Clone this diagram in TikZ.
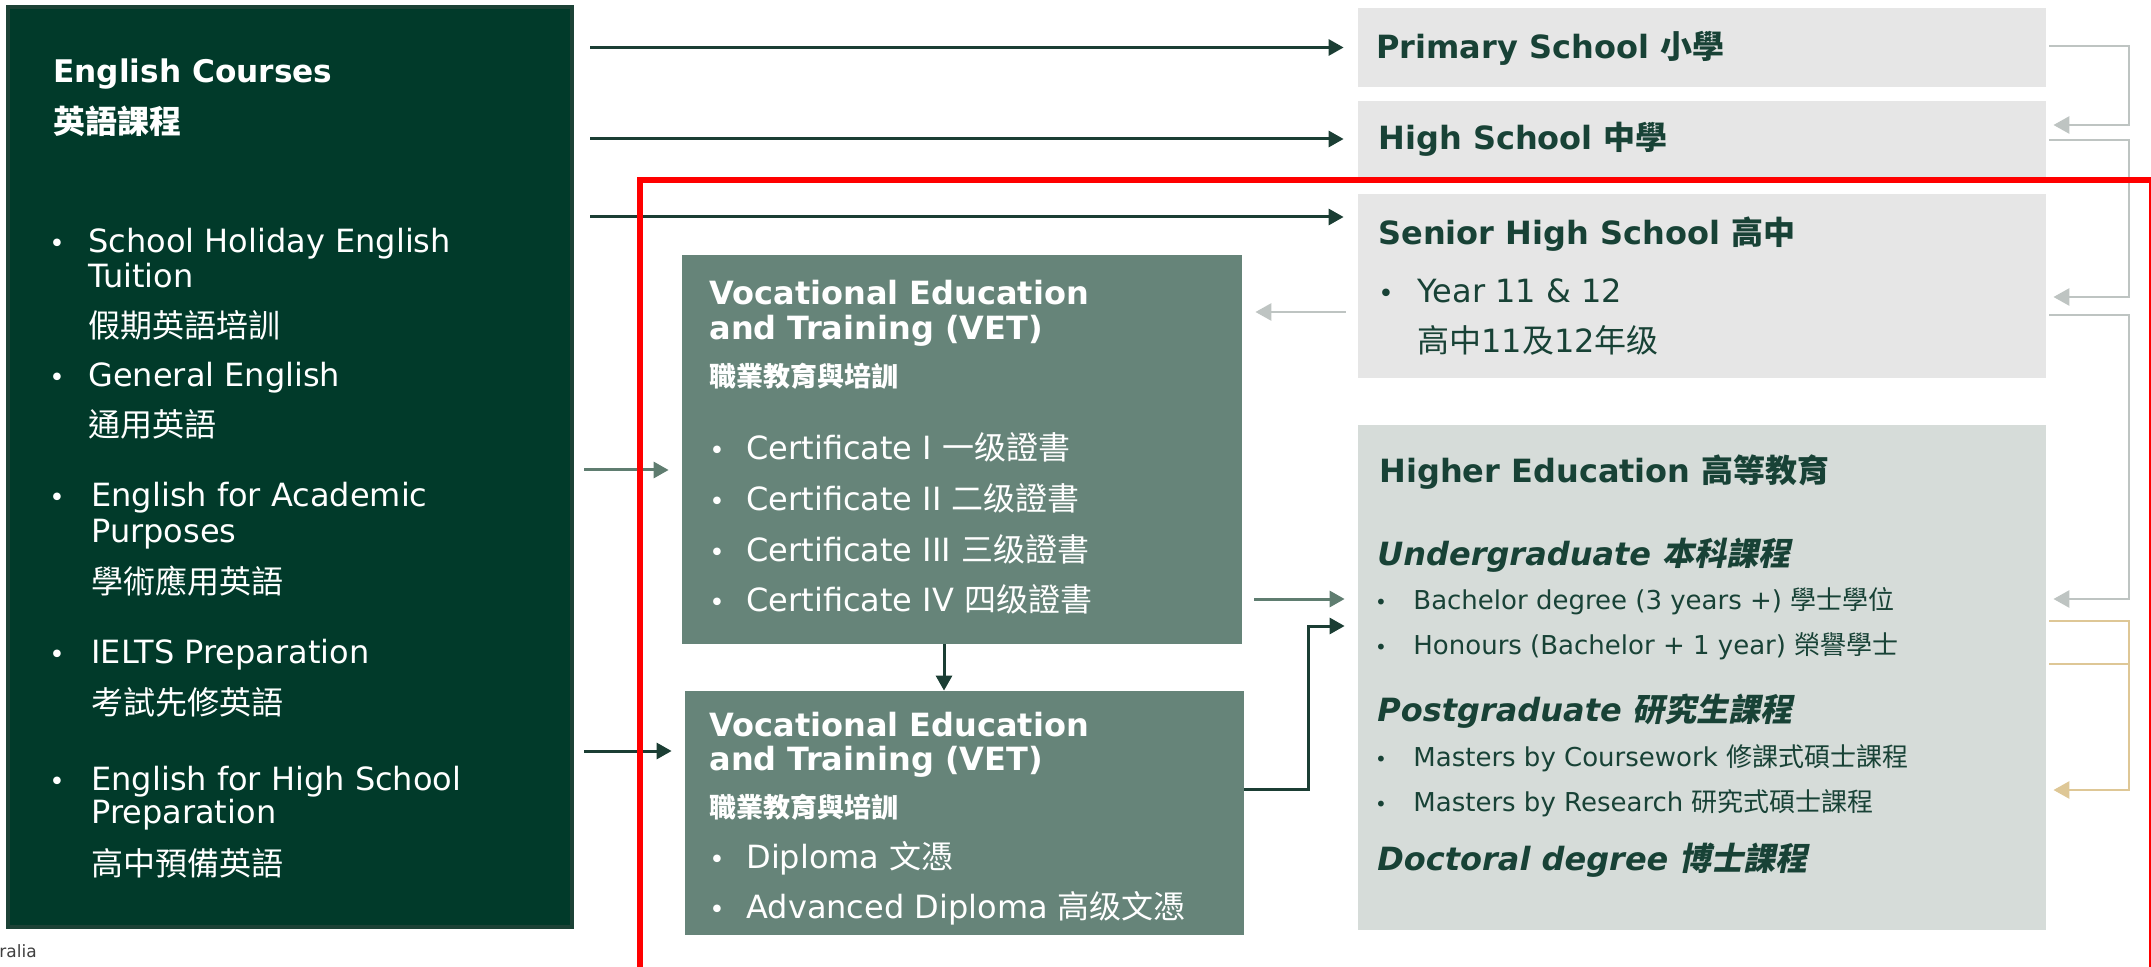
\documentclass[tikz,border=0pt]{standalone}
\usepackage{fontspec}
\setmainfont{DejaVu Sans}
\newfontfamily\cjkfont{Noto Sans CJK TC}
\newfontfamily\cjkslant{Noto Sans CJK TC}[FakeSlant=0.2]
\newcommand\zh[1]{{\cjkfont #1}}
\newcommand\zhit[1]{{\cjkslant #1}}
\newcommand\fs[1]{\fontsize{#1}{#1}\selectfont}
\usetikzlibrary{arrows.meta, fit}

\definecolor{ecdark}{RGB}{1,58,42}
\definecolor{ecedge}{RGB}{28,66,54}
\definecolor{ectext}{RGB}{24,66,54}
\definecolor{ecarrow}{RGB}{27,62,52}
\definecolor{vetfill}{RGB}{102,132,121}
\definecolor{vetarrow}{RGB}{95,125,112}
\definecolor{schoolfill}{RGB}{230,230,230}
\definecolor{unifill}{RGB}{214,220,217}
\definecolor{pathgray}{RGB}{190,196,194}
\definecolor{pathtan}{RGB}{222,199,150}
\definecolor{srcgray}{RGB}{64,64,64}

\tikzset{
    vetbox/.style={inner sep=0pt, fill=vetfill},
    schoolbox/.style={inner sep=0pt, fill=schoolfill},
    ontxt/.style={anchor=base west, inner sep=0pt, text=white},
    offtxt/.style={anchor=base west, inner sep=0pt, text=ectext},
    bul/.style={anchor=base, inner sep=0pt},
    link/.style={draw=ecarrow, line width=1.5pt, -{Triangle[length=7.5pt, width=8pt]}},
    softlink/.style={link, draw=vetarrow},
    graylink/.style={draw=pathgray, line width=1.4pt, -{Triangle[length=8pt, width=8.5pt]}},
    tanlink/.style={graylink, draw=pathtan},
    tanline/.style={draw=pathtan, line width=1.4pt},
    redframe/.style={draw=red, line width=3pt}
}

\begin{document}
\begin{tikzpicture}[x=0.5pt, y=-0.5pt]
    \useasboundingbox (0,0) rectangle (2151,967);

    % boxes
    \node[fit={(8,7) (572,927)}, inner sep=0pt, fill=ecdark, draw=ecedge, line width=2pt] (eng) {};
    \node[fit={(682,255) (1242,644)}, vetbox] (vet1) {};
    \node[fit={(685,691) (1244,935)}, vetbox] (vet2) {};
    \node[fit={(1358,8) (2046,87)}, schoolbox] (prim) {};
    \node[fit={(1358,101) (2046,177)}, schoolbox] (high) {};
    \node[fit={(1358,194) (2046,378)}, schoolbox] (senior) {};
    \node[fit={(1358,425) (2046,930)}, inner sep=0pt, fill=unifill] (higher) {};

    % English courses
    \node[ontxt, font=\bfseries\fs{15.6}] (eng-h1) at (53,83) {English Courses};
    \node[ontxt, font=\bfseries\fs{16}] (eng-h2) at (53,134) {\zh{英語課程}};
    \foreach \y in {253, 387, 507, 663, 790}
        \node[bul, text=white, font=\fs{13}] (eng-b\y) at (57,\y) {\textbullet};
    \foreach \x/\y/\txt [count=\i] in {88/253/School Holiday English, 88/288/Tuition,
            88/338/\zh{假期英語培訓}, 88/387/General English, 88/437/\zh{通用英語},
            91/507/English for Academic, 91/543/Purposes, 91/593/\zh{學術應用英語},
            91/663/IELTS Preparation, 91/714/\zh{考試先修英語},
            91/790/English for High School, 91/823/Preparation, 91/875/\zh{高中預備英語}}
        \node[ontxt, font=\fs{16}] (eng-l\i) at (\x,\y) {\txt};

    % VET
    \node[ontxt, font=\bfseries\fs{16}] (vet1-h1) at (709,305) {Vocational Education};
    \node[ontxt, font=\bfseries\fs{16}] (vet1-h2) at (709,340) {and Training (VET)};
    \node[ontxt, font=\bfseries\fs{13.5}] (vet1-h3) at (709,387) {\zh{職業教育與培訓}};
    \foreach \y/\txt [count=\i] in {460/Certificate I \zh{一级證書}, 510/Certificate II \zh{二级證書},
            561/Certificate III \zh{三级證書}, 611/Certificate IV \zh{四级證書}} {
        \node[bul, text=white, font=\fs{13}] (vet1-b\i) at (717,\y) {\textbullet};
        \node[ontxt, font=\fs{16}] (vet1-l\i) at (746,\y) {\txt};
    }
    \node[ontxt, font=\bfseries\fs{16}] (vet2-h1) at (709,736) {Vocational Education};
    \node[ontxt, font=\bfseries\fs{16}] (vet2-h2) at (709,770) {and Training (VET)};
    \node[ontxt, font=\bfseries\fs{13.5}] (vet2-h3) at (709,817) {\zh{職業教育與培訓}};
    \foreach \y/\txt [count=\i] in {868/Diploma \zh{文憑}, 918/Advanced Diploma \zh{高级文憑}} {
        \node[bul, text=white, font=\fs{13}] (vet2-b\i) at (717,\y) {\textbullet};
        \node[ontxt, font=\fs{16}] (vet2-l\i) at (746,\y) {\txt};
    }

    % schools
    \node[offtxt, font=\bfseries\fs{16}] (prim-h) at (1376,59) {Primary School \zh{小學}};
    \node[offtxt, font=\bfseries\fs{16}] (high-h) at (1378,150) {High School \zh{中學}};
    \node[offtxt, font=\bfseries\fs{16}] (senior-h) at (1378,245) {Senior High School \zh{高中}};
    \node[bul, text=ectext, font=\fs{13}] (senior-b) at (1386,303) {\textbullet};
    \node[offtxt, font=\fs{16}] (senior-l1) at (1417,303) {Year 11 \& 12};
    \node[offtxt, font=\fs{16}] (senior-l2) at (1417,353) {\zh{高中}11\zh{及}12\zh{年级}};

    % higher education
    \node[offtxt, font=\bfseries\fs{16}] (higher-h) at (1379,483) {Higher Education \zh{高等教育}};
    \foreach \y/\txt [count=\i] in {566/Undergraduate \zhit{本科課程}, 721/Postgraduate \zhit{研究生課程},
            870/Doctoral degree \zhit{博士課程}}
        \node[offtxt, font=\bfseries\itshape\fs{16}] (higher-s\i) at (1377,\y) {\txt};
    \foreach \y/\txt [count=\i] in {609/Bachelor degree (3 years +) \zh{學士學位},
            654/Honours (Bachelor + 1 year) \zh{榮譽學士},
            766/Masters by Coursework \zh{修課式碩士課程}, 811/Masters by Research \zh{研究式碩士課程}} {
        \node[bul, text=ectext, font=\fs{10}] (higher-b\i) at (1381,\y) {\textbullet};
        \node[offtxt, font=\fs{13}] (higher-l\i) at (1413,\y) {\txt};
    }

    \node[anchor=base west, inner sep=0pt, text=srcgray, font=\fs{8.5}] (src) at (-1,957) {ralia};

    % pathways
    \draw[link, shorten <=8pt, shorten >=7pt] (eng.east |- prim.west) -- (prim.west);
    \draw[link, shorten <=8pt, shorten >=7pt] (eng.east |- high.west) -- (high.west);
    \draw[link, shorten <=8pt, shorten >=7pt] (eng.east |- 0,217) -- (senior.west |- 0,217);
    \draw[softlink, shorten <=5pt, shorten >=6.5pt] (eng.east |- 0,470) -- (vet1.west |- 0,470);
    \draw[link, shorten <=5pt, shorten >=6.5pt] (eng.east |- 0,751) -- (vet2.west |- 0,751);
    \draw[link] (vet1.south -| 944,0) -- (vet2.north -| 944,0);
    \draw[graylink, shorten <=6pt, shorten >=6.5pt] (senior.west |- 0,312) -- (vet1.east |- 0,312);
    \draw[softlink, shorten <=6pt, shorten >=6.5pt] (vet1.east |- 0,599) -- (higher.west |- 0,599);
    \draw[link, shorten >=6.5pt] (vet2.east |- 0,789) -| (1308,626) -- (higher.west |- 0,626);

    \draw[graylink, shorten <=1.5pt, shorten >=3.5pt] (prim.east |- 0,46) -- (2129,46) |- (high.east |- 0,125);
    \draw[graylink, shorten <=1.5pt, shorten >=3.5pt] (high.east |- 0,140) -- (2129,140) |- (senior.east |- 0,297);
    \draw[graylink, shorten <=1.5pt, shorten >=3.5pt] (senior.east |- 0,315) -- (2129,315) |- (higher.east |- 0,599);
    \draw[tanlink, shorten <=1.5pt, shorten >=3.5pt] (higher.east |- 0,621) -- (2129,621) |- (higher.east |- 0,790);
    \draw[tanline, shorten <=1.5pt] (higher.east |- 0,664) -- (2129,664);

    \draw[redframe] (640,1000) -- (640,180) -- (2152,180) -- (2152,1000);
\end{tikzpicture}
\end{document}
